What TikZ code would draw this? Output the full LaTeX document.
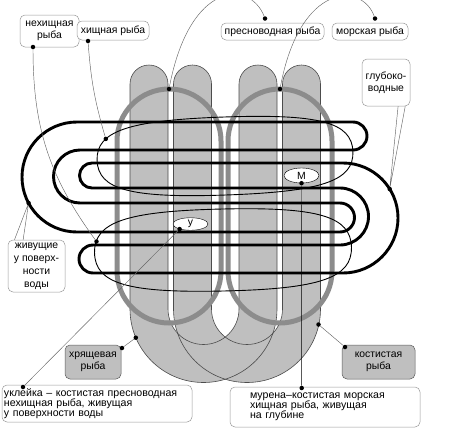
\documentclass[tikz,border=0pt]{standalone}
\usepackage{fontspec}
\setmainfont{Liberation Sans}
\usetikzlibrary{shapes.geometric}

\newcommand\ucols{(130,309) -- (130,84) arc[start angle=180,end angle=360,radius=19]
  -- (168,309) arc[start angle=180,end angle=0,radius=35.5]
  -- (239,84) arc[start angle=180,end angle=360,radius=19]
  -- (277,309) arc[start angle=0,end angle=180,radius=73.5] -- cycle}
\newcommand\tightfont{\fontsize{10.6}{10}\selectfont\lineskiplimit-5pt\relax}

\begin{document}
\begin{tikzpicture}[x=1pt,y=-1pt,font=\fontsize{10.4}{12}\selectfont]

        \useasboundingbox (0,0) rectangle (455,429);

        \begin{scope}[line width=.6pt]
          \fill[black!25] \ucols;
          \fill[black!25,xshift=43.5pt] \ucols;
          \draw[black!70] \ucols;
          \draw[black!70,xshift=43.5pt] \ucols;
        \end{scope}

        \begin{scope}[draw=black!45,line width=5pt,rounded corners=52pt]
          \draw (117,89) rectangle (221,323);
          \draw (228,89) rectangle (332,323);
        \end{scope}

        \begin{scope}[line width=2.9pt]
          \draw (77,122) -- (353,122) arc[start angle=270,end angle=450,radius=14]
            -- (80,150) arc[start angle=270,end angle=90,radius=26.5]
            -- (340,203) arc[start angle=270,end angle=450,radius=14.5]
            -- (77,232) arc[start angle=90,end angle=270,radius=55] -- cycle;
          \draw (92,163) -- (343,163) arc[start angle=270,end angle=450,radius=55]
            -- (93,273) arc[start angle=90,end angle=270,radius=14]
            -- (340,245) arc[start angle=90,end angle=-90,radius=28.5]
            -- (92,188) arc[start angle=90,end angle=270,radius=12.5] -- cycle;
        \end{scope}

        \begin{scope}[line width=.9pt,double=white,double distance=1.3pt]
          \draw[rotate around={2:(225,156)}] (97,156) .. controls (97,126.75) and (129,117) .. (225,117)
            .. controls (321,117) and (353,126.75) .. (353,156)
            .. controls (353,185.25) and (321,195) .. (225,195)
            .. controls (129,195) and (97,185.25) .. (97,156) -- cycle;
          \draw[rotate around={1.3:(223,250)}] (94.5,250) .. controls (94.5,219.25) and (126.6,209) .. (223,209)
            .. controls (319.4,209) and (351.5,219.25) .. (351.5,250)
            .. controls (351.5,280.75) and (319.4,291) .. (223,291)
            .. controls (126.6,291) and (94.5,280.75) .. (94.5,250) -- cycle;
        \end{scope}

        \begin{scope}[every node/.style={ellipse,draw,fill=white,inner sep=0pt,minimum width=35pt}]
          \node[minimum height=15pt]   (M) at (301.5,175.5) {М};
          \node[minimum height=12.5pt] (u) at (190.5,224)   {у};
        \end{scope}

        \begin{scope}[every node/.style={draw=black!40,line width=.5pt,rounded corners=5pt,
                      fill=white,align=center,inner sep=0pt}]
          \node[minimum width=59pt,minimum height=32pt]  (neh)   at (49.5,31)   {нехищная\\рыба};
          \node[minimum width=72pt,minimum height=19pt]  (hish)  at (113,30.5)  {хищная рыба};
          \node[minimum width=103pt,minimum height=17pt] (fresh) at (272.5,31.5) {пресноводная рыба};
          \node[minimum width=76pt,minimum height=17pt]  (sea)   at (370,31.5)  {морская рыба};
          \node[minimum width=48pt,minimum height=47pt]  (deep)  at (386,82.5)  {глубоко-\\водные};
          \node[minimum width=57pt,minimum height=52pt,font=\fontsize{10.4}{13}\selectfont]
                                                         (surf)  at (36.5,266)  {живущие\\у поверх-\\ности\\воды};
          \node[minimum width=56pt,minimum height=34pt,fill=black!25,draw=black!65]
                                                         (cart)  at (93,362)    {хрящевая\\рыба};
          \node[minimum width=73pt,minimum height=34pt,fill=black!25,draw=black!65]
                                                         (bony)  at (378.5,362) {костистая\\рыба};
          \node[minimum width=190pt,minimum height=37pt,text width=186pt,align=left,font=\tightfont]
                (bleak) at (97,403.5) {уклейка – костистая пресноводная\\нехищная рыба, живущая\\у поверхности воды};
          \node[minimum width=190pt,minimum height=40pt,text width=150pt,align=left,font=\tightfont]
                (moray) at (325,407) {мурена–костистая морская\\хищная рыба, живущая\\на глубине};
        \end{scope}

        \begin{scope}[every node/.style={circle,fill=black,inner sep=0pt,minimum size=4.5pt}]
          \node (mdot)  at (M.south)     {};
          \node (udot)  at (u.-155)      {};
          \node (fdot)  at (169,89)      {};
          \node (sdot)  at (280,89)      {};
          \node (hdot)  at (105.8,138.9) {};
          \node (ndot)  at (96.5,241.5)  {};
          \node (wdot)  at (28.6,203)    {};
          \node (gdot)  at (389.7,189)   {};
          \node (cdot)  at (135.8,337.7) {};
          \node (bdot)  at (318.5,324.5) {};
          \node (neh1)  at (33,47)       {};
          \node (hish1) at (88,41)       {};
          \node (fre1)  at (265,18.5)    {};
          \node (sea1)  at (375,18.5)    {};
          \node (car1)  at (122,348)     {};
          \node (bon1)  at (345,347)     {};
          \node (ble1)  at (23,387)      {};
          \node (mor1)  at (301.7,388)   {};
        \end{scope}

        \begin{scope}[black!60,line width=.45pt]
          \draw (neh1) to[bend right=18] (ndot);
          \draw (hish1) to[bend right=6] (hdot);
          \draw (fre1) .. controls (250,-20) and (190,-20) .. (fdot);
          \draw (sea1) .. controls (362,-18) and (300,-18) .. (sdot);
          \draw (deep.-63) -- (gdot) -- (deep.-51);
          \draw (surf.130) -- (wdot) -- (surf.117);
          \draw (car1) -- (cdot);
          \draw (bon1) -- (bdot);
          \draw (ble1) -- (udot);
          \draw[black] (mor1) -- (mdot);
        \end{scope}

\end{tikzpicture}
\end{document}
